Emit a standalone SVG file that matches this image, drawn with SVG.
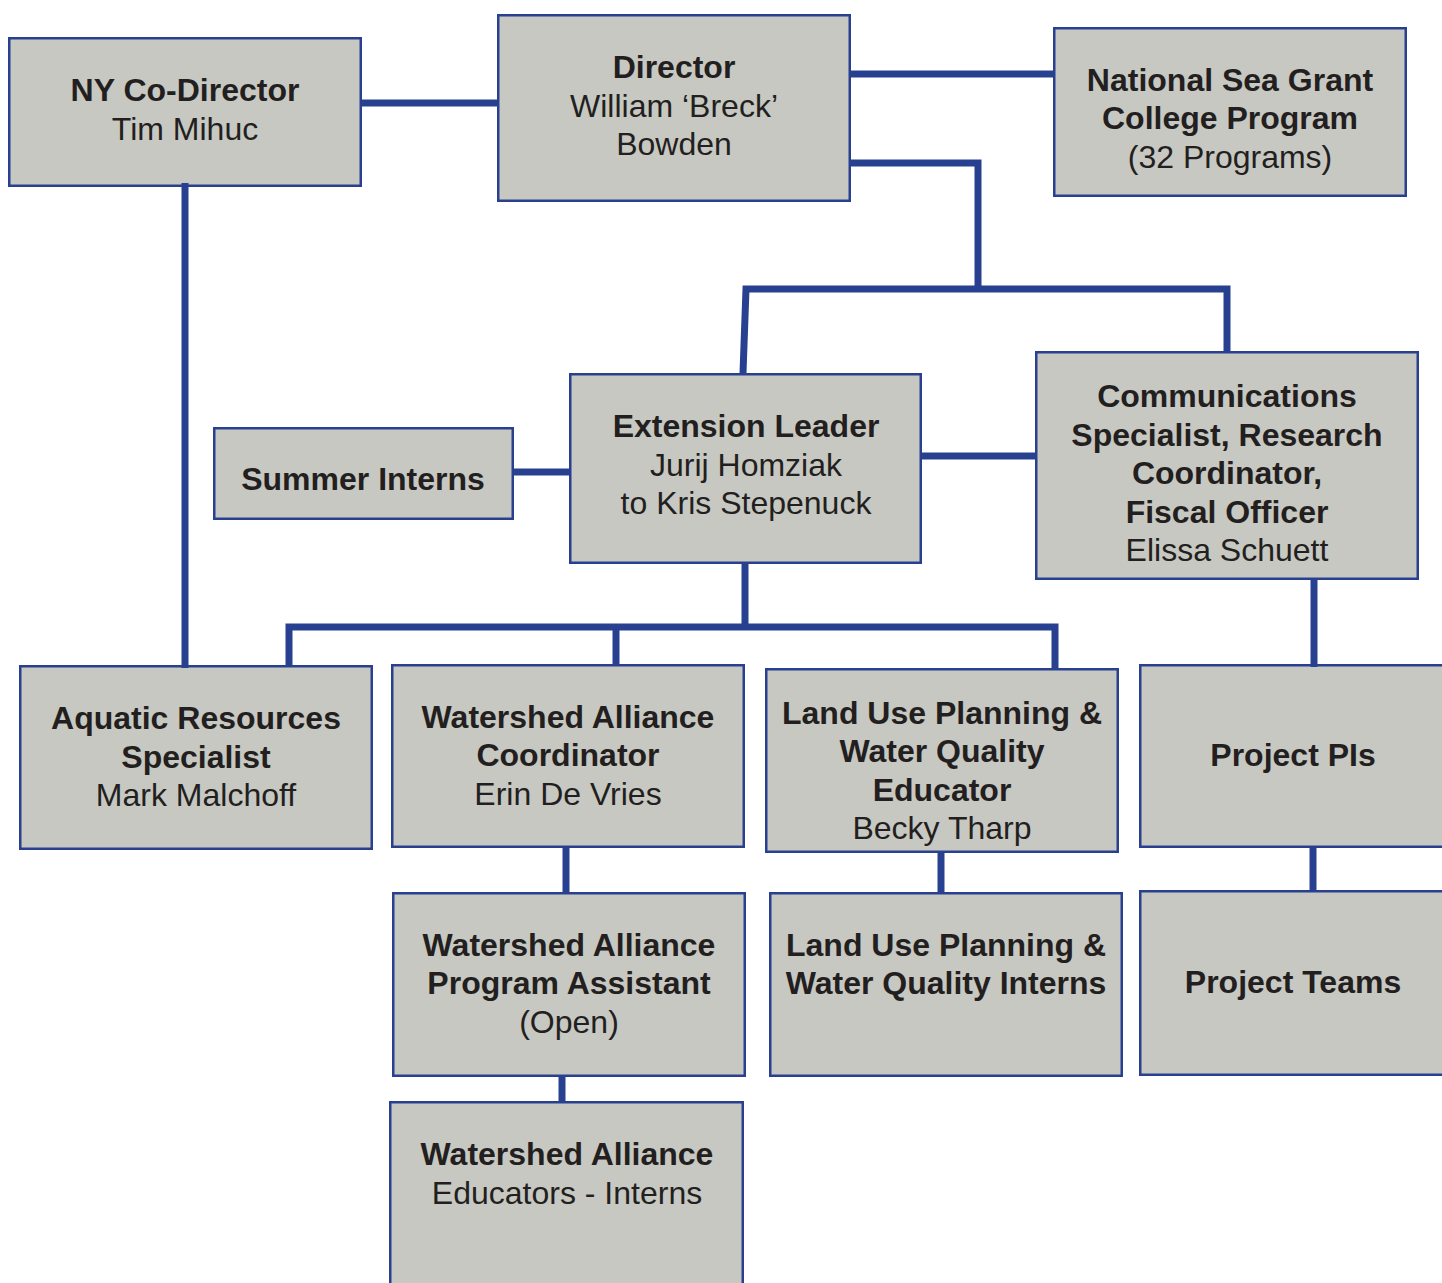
<svg xmlns="http://www.w3.org/2000/svg" width="1442" height="1283" viewBox="0 0 1442 1283">
  <style>
    .box { fill: #c7c8c2; stroke: #28408f; stroke-width: 2.5; }
    .link { fill: none; stroke: #27408f; stroke-width: 7; stroke-linejoin: miter; }
    text { font-family: "Liberation Sans", Arial, Helvetica, sans-serif; font-size: 32px; fill: #231f20; text-anchor: middle; }
    .b { font-weight: bold; }
  </style>
  <rect width="1442" height="1283" fill="#ffffff"/>

  <!-- boxes -->
  <g id="ny-codirector">
    <rect class="box" x="9.25" y="38.25" width="351.5" height="147.5"/>
    <text class="b" x="185" y="101">NY Co-Director</text>
    <text x="185" y="140">Tim Mihuc</text>
  </g>
  <g id="director">
    <rect class="box" x="498.25" y="15.25" width="351.5" height="185.5"/>
    <text class="b" x="674" y="78">Director</text>
    <text x="674" y="117">William ‘Breck’</text>
    <text x="674" y="155">Bowden</text>
  </g>
  <g id="national-sea-grant">
    <rect class="box" x="1054.25" y="28.25" width="351.5" height="167.5"/>
    <text class="b" x="1230" y="91">National Sea Grant</text>
    <text class="b" x="1230" y="129">College Program</text>
    <text x="1230" y="168">(32 Programs)</text>
  </g>
  <g id="summer-interns">
    <rect class="box" x="214.25" y="428.25" width="298.5" height="90.5"/>
    <text class="b" x="363" y="490">Summer Interns</text>
  </g>
  <g id="extension-leader">
    <rect class="box" x="570.25" y="374.25" width="350.5" height="188.5"/>
    <text class="b" x="746" y="437">Extension Leader</text>
    <text x="746" y="476">Jurij Homziak</text>
    <text x="746" y="514">to Kris Stepenuck</text>
  </g>
  <g id="communications">
    <rect class="box" x="1036.25" y="352.25" width="381.5" height="226.5"/>
    <text class="b" x="1227" y="407">Communications</text>
    <text class="b" x="1227" y="446">Specialist, Research</text>
    <text class="b" x="1227" y="484">Coordinator,</text>
    <text class="b" x="1227" y="523">Fiscal Officer</text>
    <text x="1227" y="561">Elissa Schuett</text>
  </g>
  <g id="aquatic-resources">
    <rect class="box" x="20.25" y="666.25" width="351.5" height="182.5"/>
    <text class="b" x="196" y="729">Aquatic Resources</text>
    <text class="b" x="196" y="768">Specialist</text>
    <text x="196" y="806">Mark Malchoff</text>
  </g>
  <g id="watershed-coordinator">
    <rect class="box" x="392.25" y="665.25" width="351.5" height="181.5"/>
    <text class="b" x="568" y="728">Watershed Alliance</text>
    <text class="b" x="568" y="766">Coordinator</text>
    <text x="568" y="805">Erin De Vries</text>
  </g>
  <g id="land-use-educator">
    <rect class="box" x="766.25" y="669.25" width="351.5" height="182.5"/>
    <text class="b" x="942" y="724">Land Use Planning &amp;</text>
    <text class="b" x="942" y="762">Water Quality</text>
    <text class="b" x="942" y="801">Educator</text>
    <text x="942" y="839">Becky Tharp</text>
  </g>
  <g id="project-pis">
    <rect class="box" x="1140.25" y="665.25" width="320" height="181.5"/>
    <text class="b" x="1293" y="766">Project PIs</text>
  </g>
  <g id="watershed-assistant">
    <rect class="box" x="393.25" y="893.25" width="351.5" height="182.5"/>
    <text class="b" x="569" y="956">Watershed Alliance</text>
    <text class="b" x="569" y="994">Program Assistant</text>
    <text x="569" y="1033">(Open)</text>
  </g>
  <g id="land-use-interns">
    <rect class="box" x="770.25" y="893.25" width="351.5" height="182.5"/>
    <text class="b" x="946" y="956">Land Use Planning &amp;</text>
    <text class="b" x="946" y="994">Water Quality Interns</text>
  </g>
  <g id="project-teams">
    <rect class="box" x="1140.25" y="891.25" width="320" height="183.5"/>
    <text class="b" x="1293" y="993">Project Teams</text>
  </g>
  <g id="watershed-educators">
    <rect class="box" x="390.25" y="1102.25" width="352.5" height="200"/>
    <text class="b" x="567" y="1165">Watershed Alliance</text>
    <text x="567" y="1204">Educators - Interns</text>
  </g>

  <!-- connectors -->
  <g id="connectors">
    <path class="link" d="M362 103 H497"/>
    <path class="link" d="M851 74 H1053"/>
    <path class="link" d="M851 163 H978 V289"/>
    <path class="link" d="M743 373 L746 289 H1227 V351"/>
    <path class="link" d="M185 183 V668"/>
    <path class="link" d="M514 472 H569"/>
    <path class="link" d="M922 456 H1035"/>
    <path class="link" d="M745 564 V627"/>
    <path class="link" d="M289 666 V627 H1055 V668"/>
    <path class="link" d="M616 627 V665"/>
    <path class="link" d="M1314 580 V667"/>
    <path class="link" d="M566 848 V892"/>
    <path class="link" d="M941 852 V892"/>
    <path class="link" d="M1313 848 V890"/>
    <path class="link" d="M562 1077 V1101"/>
  </g>
</svg>
